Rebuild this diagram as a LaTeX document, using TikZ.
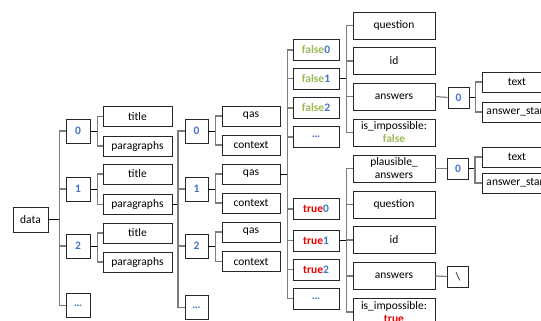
\documentclass[tikz,border=0pt]{standalone}
\usepackage{fontspec}
\setmainfont{Carlito}
\usepackage{xcolor}
\definecolor{numblue}{RGB}{68,114,196}
\definecolor{fgreen}{RGB}{155,187,89}
\definecolor{tred}{RGB}{230,0,0}
\definecolor{busgray}{RGB}{125,125,125}
\newcommand{\nb}[1]{\textcolor{numblue}{\textbf{#1}}}
\newcommand{\falseidx}[1]{\textcolor{fgreen}{\textbf{false}}\nb{#1}}
\newcommand{\trueidx}[1]{\textcolor{tred}{\textbf{true}}\nb{#1}}

\begin{document}
\begin{tikzpicture}[x=1pt,y=-1pt,font=\fontsize{11.5}{13}\selectfont,
  box/.style={draw=black!85,line width=0.9pt,inner sep=0pt,align=center},
  stub/.style={black,line width=1pt},
  bus/.style={busgray,line width=1.2pt}]
  \useasboundingbox (0,0) rectangle (541,321);
  \clip (0,0) rectangle (541,321);
  % data and first index level
  \node[box,minimum width=35,minimum height=25] (data) at (30.5,219.5) {data};
  \foreach \i/\y in {0/131,1/189,2/246}
    \node[box,minimum width=24,minimum height=24] (a\i) at (78,\y) {\nb{\i}};
  \node[box,minimum width=24,minimum height=24] (a3) at (78,305.5) {\nb{\textellipsis}};
  \foreach \i/\y/\z in {0/116.5/146,1/174/204.5,2/233/262} {
    \node[box,minimum width=69,minimum height=20] (t\i) at (137.5,\y) {title};
    \node[box,minimum width=69,minimum height=20] (p\i) at (137.5,\z) {paragraphs};
  }
  % paragraphs level
  \foreach \i/\y in {0/131,1/189,2/246}
    \node[box,minimum width=23,minimum height=24] (b\i) at (196.5,\y) {\nb{\i}};
  \node[box,minimum width=23,minimum height=24] (b3) at (196.5,307.5) {\nb{\textellipsis}};
  \foreach \i/\y/\z in {0/116/145,1/174/203,2/232/261.5} {
    \node[box,minimum width=58,minimum height=20] (q\i) at (251,\y) {qas};
    \node[box,minimum width=58,minimum height=20] (c\i) at (251,\z) {context};
  }
  % qas level
  \foreach \i/\y in {0/50,1/78.5,2/108}
    \node[box,minimum width=46,minimum height=21] (f\i) at (316,\y) {\falseidx{\i}};
  \node[box,minimum width=46,minimum height=21] (f3) at (316,137) {\nb{\textellipsis}};
  \foreach \i/\y in {0/209,1/240.5,2/269.5}
    \node[box,minimum width=46,minimum height=21] (r\i) at (316,\y) {\trueidx{\i}};
  \node[box,minimum width=46,minimum height=21] (r3) at (316,298.5) {\nb{\textellipsis}};
  % answerable question
  \node[box,minimum width=82,minimum height=27] (fq) at (394,25.5) {question};
  \node[box,minimum width=82,minimum height=27] (fi) at (394,61) {id};
  \node[box,minimum width=82,minimum height=27] (fa) at (394,96.5) {answers};
  \node[box,minimum width=82,minimum height=27] (fx) at (394,132.5) {is\_impossible:\\\textcolor{fgreen}{\textbf{false}}};
  \node[box,minimum width=21,minimum height=21] (fz) at (458.5,97.5) {\nb{0}};
  \node[box,minimum width=70,minimum height=20] (ft) at (517,82) {text};
  \node[box,minimum width=70,minimum height=20] (fs) at (517,112) {answer\_start};
  % impossible question
  \node[box,minimum width=82,minimum height=27] (rp) at (394,168.5) {plausible\_\\answers};
  \node[box,minimum width=82,minimum height=27] (rq) at (394,204.5) {question};
  \node[box,minimum width=82,minimum height=27] (ri) at (394,240) {id};
  \node[box,minimum width=82,minimum height=27] (ra) at (394,276) {answers};
  \node[box,minimum width=82,minimum height=27] (rx) at (394,312) {is\_impossible:\\\textcolor{tred}{\textbf{true}}};
  \node[box,minimum width=21,minimum height=21] (rz) at (458,168.5) {\nb{0}};
  \node[box,minimum width=70,minimum height=20] (rt) at (517,157) {text};
  \node[box,minimum width=70,minimum height=20] (rs) at (517,183) {answer\_start};
  \node[box,minimum width=21,minimum height=21] (rn) at (458,276.5) {\textbackslash};
  % connectors
  \draw[stub] (data.east) -- ++(11,0) coordinate (d0);
  \foreach \c in {a0,a1,a2,a3} \draw[bus] (d0) |- (\c.west);
  \foreach \i in {0,1,2} {
    \draw[stub] (a\i.east) -- ++(7,0) coordinate (e\i);
    \draw[bus] (e\i) |- (t\i.west);
    \draw[bus] (e\i) |- (p\i.west);
    \draw[stub] (b\i.east) -- ++(7,0) coordinate (g\i);
    \draw[bus] (g\i) |- (q\i.west);
    \draw[bus] (g\i) |- (c\i.west);
  }
  \draw[stub] (p1.east) -- ++(5.5,0) coordinate (h0);
  \foreach \c in {b0,b1,b2,b3} \draw[bus] (h0) |- (\c.west);
  \draw[stub] (q1.east) -- ++(7,0) coordinate (h1);
  \foreach \c in {f0,f1,f2,f3,r0,r1,r2,r3} \draw[bus] (h1) |- (\c.west);
  \draw[stub] (f1.east) -- ++(7,0) coordinate (h2);
  \foreach \c in {fq,fi,fa,fx} \draw[bus] (h2) |- (\c.west);
  \draw[stub] (r1.east) -- ++(7,0) coordinate (h3);
  \foreach \c in {rp,rq,ri,ra,rx} \draw[bus] (h3) |- (\c.west);
  \draw[bus] (fa.east) -- (fz.west);
  \draw[stub] (fz.east) -- ++(6,0) coordinate (h4);
  \foreach \c in {ft,fs} \draw[bus] (h4) |- (\c.west);
  \draw[bus] (rp.east) -- (rz.west);
  \draw[stub] (rz.east) -- ++(6,0) coordinate (h5);
  \foreach \c in {rt,rs} \draw[bus] (h5) |- (\c.west);
  \draw[bus] (ra.east) -- (rn.west);
\end{tikzpicture}
\end{document}
